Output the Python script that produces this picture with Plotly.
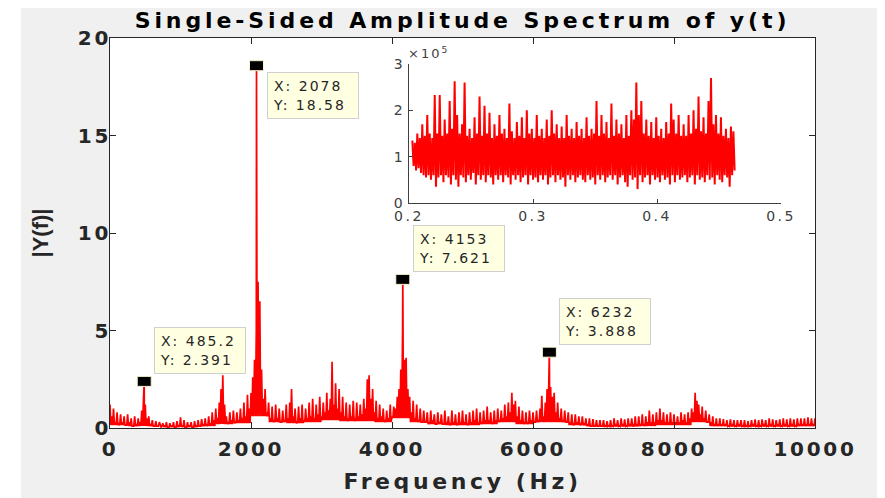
import numpy as np
import plotly.graph_objects as go

# ---------------- data ----------------
freq_step = 25  # Hz spacing of the sampled spectrum
amp_rows = [
    [1.2, 0.6, 1.0, 0.3, 0.8, 0.2, 0.7, 0.3, 0.6, 0.15, 0.7, 0.3, 0.5, 0.1, 0.6, 0.2, 0.5, 0.3, 0.9, 1.5],
    [1.2, 0.5, 0.6, 0.2, 0.4, 0.1, 0.35, 0.1, 0.3, 0.05, 0.25, 0.1, 0.3, 0.05, 0.25, 0.1, 0.3, 0.05, 0.35, 0.15],
    [0.55, 0.1, 0.4, 0.05, 0.3, 0.1, 0.3, 0.05, 0.35, 0.1, 0.4, 0.1, 0.45, 0.15, 0.5, 0.2, 0.6, 0.25, 0.8, 0.4],
    [1.0, 0.5, 1.3, 2.0, 2.7, 1.2, 0.6, 0.3, 0.8, 0.4, 0.9, 0.3, 0.8, 0.4, 1.0, 0.5, 1.3, 0.6, 1.7, 1.0],
    [1.8, 2.6, 3.5, 5.0, 7.5, 6.5, 3.0, 1.5, 2.0, 0.8, 1.3, 0.5, 1.1, 0.4, 1.2, 0.5, 1.0, 0.3, 0.9, 0.4],
    [1.2, 0.5, 1.3, 2.0, 0.6, 1.0, 0.3, 1.1, 0.5, 1.2, 0.4, 1.0, 0.5, 1.3, 0.6, 1.5, 0.5, 1.2, 0.7, 1.6],
    [0.6, 1.3, 0.8, 1.8, 0.9, 1.5, 3.4, 1.2, 2.3, 1.0, 2.0, 0.8, 1.6, 0.6, 1.3, 0.5, 1.2, 0.6, 1.4, 0.5],
    [1.3, 0.6, 1.2, 0.7, 1.5, 1.0, 2.5, 2.7, 1.5, 2.0, 0.8, 1.4, 0.5, 1.2, 0.6, 1.0, 0.4, 0.9, 0.5, 1.2],
    [0.6, 1.1, 1.0, 1.6, 2.0, 3.0, 5.0, 3.5, 3.6, 2.0, 1.6, 0.8, 1.4, 0.5, 1.2, 0.4, 1.0, 0.3, 0.9, 0.3],
    [0.8, 0.3, 0.9, 0.4, 0.7, 0.2, 0.8, 0.3, 0.7, 0.2, 0.9, 0.3, 0.6, 0.2, 0.9, 0.3, 0.7, 0.2, 0.8, 0.3],
    [0.9, 0.3, 0.7, 0.2, 0.8, 0.3, 0.9, 0.4, 1.0, 0.3, 0.8, 0.3, 0.9, 0.4, 1.1, 0.4, 0.8, 0.3, 0.9, 0.4],
    [1.0, 0.4, 0.9, 0.5, 1.2, 0.6, 1.3, 0.8, 1.8, 1.2, 1.4, 0.6, 1.1, 0.4, 0.9, 0.3, 0.8, 0.3, 0.9, 0.4],
    [0.8, 0.3, 0.9, 0.4, 1.0, 1.65, 0.6, 1.3, 2.0, 2.5, 2.1, 1.6, 1.8, 0.8, 1.3, 0.5, 1.0, 0.4, 0.9, 0.3],
    [0.8, 0.3, 0.7, 0.2, 0.7, 0.3, 0.6, 0.2, 0.6, 0.2, 0.5, 0.15, 0.5, 0.1, 0.45, 0.1, 0.4, 0.1, 0.4, 0.1],
    [0.4, 0.1, 0.35, 0.1, 0.4, 0.1, 0.5, 0.15, 0.4, 0.1, 0.5, 0.15, 0.45, 0.1, 0.5, 0.2, 0.5, 0.15, 0.6, 0.2],
    [0.6, 0.2, 0.7, 0.2, 0.6, 0.3, 0.9, 0.3, 0.7, 0.3, 0.8, 0.4, 1.0, 0.4, 0.8, 0.3, 0.7, 0.3, 0.8, 0.3],
    [0.7, 0.3, 0.6, 0.3, 0.8, 0.4, 0.7, 0.3, 0.8, 0.5, 1.0, 0.8, 1.8, 1.4, 1.2, 0.7, 1.1, 0.5, 0.9, 0.3],
    [0.7, 0.3, 0.6, 0.2, 0.5, 0.2, 0.5, 0.15, 0.45, 0.15, 0.4, 0.1, 0.45, 0.15, 0.4, 0.1, 0.4, 0.15, 0.4, 0.1],
    [0.4, 0.1, 0.35, 0.1, 0.4, 0.15, 0.45, 0.1, 0.4, 0.1, 0.45, 0.15, 0.4, 0.1, 0.5, 0.15, 0.45, 0.1, 0.4, 0.15],
    [0.45, 0.1, 0.5, 0.15, 0.45, 0.1, 0.5, 0.15, 0.45, 0.1, 0.5, 0.2, 0.5, 0.15, 0.5, 0.15, 0.55, 0.2, 0.5, 0.2],
    [0.5],
]
# lower edge of the noise band, one value per 250 Hz bin
floor_bin = 250
amp_floor = [0.15, 0.1, 0.1, 0.05, 0.05, 0.1, 0.2, 0.25, 0.6, 0.3,
             0.25, 0.3, 0.4, 0.35, 0.35, 0.3, 0.5, 0.3, 0.2, 0.15,
             0.15, 0.2, 0.3, 0.2, 0.3, 0.3, 0.15, 0.1, 0.08, 0.08,
             0.1, 0.15, 0.15, 0.3, 0.1, 0.08, 0.08, 0.08, 0.08, 0.1, 0.1]
peak_x = [485.2, 2078, 4153, 6232]
peak_y = [2.391, 18.58, 7.621, 3.888]
tip_side = ["above", "below", "above", "above"]

# inset signal (values in units of 1e5)
inset_t_start, inset_t_end = 0.2027, 0.4626
inset_hi = [
    1.35, 1.3, 1.5, 1.4, 1.7, 1.45, 1.9, 1.5, 1.4, 2.33,
    1.5, 2.33, 1.45, 1.8, 1.5, 2.2, 1.6, 2.63, 1.9, 1.5,
    1.7, 2.6, 1.45, 1.6, 1.4, 1.85, 1.5, 2.3, 1.45, 2.1,
    1.5, 1.95, 1.4, 1.7, 1.45, 1.9, 1.5, 1.6, 1.4, 2.15,
    1.55, 1.4, 1.75, 1.45, 1.85, 1.4, 2.0, 1.5, 1.6, 1.4,
    1.9, 1.45, 1.6, 1.4, 1.8, 1.45, 2.0, 1.5, 1.7, 1.4,
    1.65, 1.4, 1.9, 1.45, 1.6, 1.4, 1.75, 1.45, 1.6, 1.4,
    1.85, 1.45, 1.6, 1.5, 2.2, 1.45, 1.9, 1.5, 1.75, 1.4,
    2.15, 1.45, 1.8, 1.5, 1.7, 1.4, 1.9, 1.45, 2.0, 1.8,
    2.6, 1.9, 2.2, 1.5, 1.8, 1.45, 1.75, 1.4, 1.85, 1.45,
    1.6, 1.4, 1.75, 1.5, 2.15, 1.8, 1.5, 1.9, 1.45, 1.7,
    1.45, 1.9, 1.5, 2.0, 1.6, 2.3, 1.55, 1.85, 1.5, 2.2,
    2.7, 1.7, 1.9, 1.5, 1.85, 1.45, 1.6, 1.4, 1.65, 1.55,
]
inset_lo = [
    0.8, 0.7, 0.75, 0.65, 0.6, 0.55, 0.6, 0.5, 0.6, 0.35,
    0.55, 0.6, 0.45, 0.6, 0.55, 0.4, 0.6, 0.5, 0.35, 0.6,
    0.55, 0.45, 0.6, 0.5, 0.65, 0.4, 0.6, 0.5, 0.6, 0.45,
    0.6, 0.55, 0.4, 0.6, 0.5, 0.6, 0.45, 0.6, 0.55, 0.4,
    0.6, 0.5, 0.6, 0.45, 0.55, 0.6, 0.4, 0.6, 0.5, 0.55,
    0.45, 0.6, 0.5, 0.6, 0.4, 0.55, 0.6, 0.45, 0.6, 0.5,
    0.55, 0.35, 0.6, 0.5, 0.6, 0.45, 0.55, 0.6, 0.5, 0.45,
    0.6, 0.5, 0.55, 0.4, 0.6, 0.5, 0.6, 0.45, 0.55, 0.6,
    0.5, 0.6, 0.4, 0.55, 0.6, 0.45, 0.35, 0.6, 0.5, 0.55,
    0.3, 0.6, 0.45, 0.55, 0.6, 0.4, 0.6, 0.5, 0.55, 0.45,
    0.6, 0.5, 0.55, 0.4, 0.6, 0.45, 0.6, 0.5, 0.55, 0.6,
    0.45, 0.55, 0.6, 0.4, 0.6, 0.5, 0.55, 0.45, 0.6, 0.5,
    0.55, 0.4, 0.6, 0.5, 0.45, 0.6, 0.55, 0.35, 0.6, 0.7,
]

x_ticks = [0, 2000, 4000, 6000, 8000, 10000]
y_ticks = [0, 5, 10, 15, 20]
inset_x_ticks = [0.2, 0.3, 0.4, 0.5]
inset_y_ticks = [0, 1, 2, 3]

# ---------------- build series ----------------
amp_grid = [v for row in amp_rows for v in row]
freq_grid = [i * freq_step for i in range(len(amp_grid))]
pts = []
for f, a in zip(freq_grid, amp_grid):
    pts.append((f, a))
    if f < freq_grid[-1]:
        pts.append((f + freq_step / 2, amp_floor[int(f // floor_bin)]))
pts = sorted(pts + list(zip(peak_x, peak_y)))
freq = [p[0] for p in pts]
amp = [p[1] for p in pts]

inset_y = [v for pair in zip(inset_hi, inset_lo) for v in pair]
inset_t = np.linspace(inset_t_start, inset_t_end, len(inset_y))

AX = "#262626"
RED = "#ff0000"
BOLD = "DejaVu Sans"

fig = go.Figure()
fig.add_trace(go.Scatter(x=freq, y=amp, mode="lines", line=dict(color=RED, width=1.7),
                         xaxis="x", yaxis="y", showlegend=False, hoverinfo="skip"))
fig.add_trace(go.Scatter(x=inset_t, y=inset_y, mode="lines", line=dict(color=RED, width=2.0),
                         xaxis="x2", yaxis="y2", showlegend=False, hoverinfo="skip"))

# white strip at the far left of the window (the grey figure starts a little in)
shapes = [dict(type="rect", xref="paper", yref="paper", x0=-0.2, x1=-0.1262, y0=-0.4, y1=1.4,
               fillcolor="white", line=dict(width=0), layer="below")]
annotations = []
for px_, py_, side in zip(peak_x, peak_y, tip_side):
    shapes.append(dict(type="rect", xref="x", yref="y", xsizemode="pixel", ysizemode="pixel",
                       xanchor=px_, yanchor=py_, x0=-7, x1=7, y0=-5, y1=5,
                       fillcolor="black", line=dict(color="#f5f5d0", width=1), layer="above"))
    annotations.append(dict(
        x=px_, y=py_, xref="x", yref="y", showarrow=False,
        text=f"X: {px_:g}<br>Y: {py_:g}",
        xanchor="left", yanchor="bottom" if side == "above" else "top",
        xshift=10, yshift=7 if side == "above" else -6,
        bgcolor="#ffffe1", bordercolor="#cfcfcf", borderwidth=1, borderpad=5,
        width=80, height=35, align="left", valign="middle",
        font=dict(family="DejaVu Sans", size=14, color=AX)))

annotations.append(dict(x=0, y=1, xref="x2 domain", yref="y2 domain", showarrow=False,
                        xanchor="left", yanchor="bottom", xshift=1, yshift=1,
                        text="×10<sup>5</sup>",
                        font=dict(family="DejaVu Sans", size=13, color="#404040")))

fig.update_layout(
    width=885, height=498,
    margin=dict(l=102, r=78, t=30, b=78),
    paper_bgcolor="#f0f0f0", plot_bgcolor="white",
    title=dict(text="<b>Single-Sided Amplitude Spectrum of y(t)</b>",
               x=0.5, xref="paper", xanchor="center",
               y=1 - 12 / 498, yref="container", yanchor="middle",
               font=dict(family=BOLD, size=22, color="black")),
    xaxis=dict(range=[0, 10000], tickvals=x_ticks, ticktext=[str(v) for v in x_ticks],
               ticks="inside", ticklen=6, tickcolor=AX, showline=True, linecolor=AX, linewidth=1,
               mirror="ticks", showgrid=False, zeroline=False, automargin=False,
               ticklabelstandoff=3,
               tickfont=dict(family=BOLD, size=20, color=AX, weight="bold"),
               title=dict(text="<b>Frequency (Hz)</b>", standoff=13,
                          font=dict(family=BOLD, size=22, color=AX))),
    yaxis=dict(range=[0, 20], tickvals=y_ticks, ticks="inside", ticklen=6, tickcolor=AX,
               showline=True, linecolor=AX, linewidth=1, mirror="ticks", showgrid=False,
               zeroline=False, automargin=False, ticklabelstandoff=-6,
               tickfont=dict(family=BOLD, size=20, color=AX, weight="bold"),
               title=dict(text="<b>|Y(f)|</b>", standoff=28,
                          font=dict(family="Liberation Sans", size=22, color=AX))),
    xaxis2=dict(domain=[0.4241, 0.9518], anchor="y2", range=[0.2, 0.5], tickvals=inset_x_ticks,
                ticktext=[f"{v:.1f}" for v in inset_x_ticks],
                ticks="inside", ticklen=4, tickcolor="#404040", showline=True, linecolor="#404040",
                linewidth=1, mirror=False, showgrid=False, zeroline=False,
                tickfont=dict(family="DejaVu Sans", size=14, color="#404040")),
    yaxis2=dict(domain=[0.5769, 0.9333], anchor="x2", range=[0, 3], tickvals=inset_y_ticks,
                ticks="inside", ticklen=4, tickcolor="#404040", showline=True, linecolor="#404040",
                linewidth=1, mirror=False, showgrid=False, zeroline=False,
                tickfont=dict(family="DejaVu Sans", size=14, color="#404040")),
    shapes=shapes,
    annotations=annotations,
)

post_js = """
(function(){
  var gd = document.getElementById('{plot_id}');
  function ls(sel, v){ gd.querySelectorAll(sel).forEach(function(t){ t.style.letterSpacing = v; }); }
  function apply(){
    ls('text.gtitle', '3.9px');
    ls('text.xtitle', '3.6px');
    ls('.xtick text', '2.7px');
    ls('.ytick text', '2.7px');
    ls('.x2tick text', '2.5px');
    ls('.y2tick text', '2.5px');
    ls('text.annotation-text', '2px');
  }
  apply();
  if (gd.on) { gd.on('plotly_afterplot', apply); }
})();
"""

fig.write_html("out.html", post_script=post_js)
